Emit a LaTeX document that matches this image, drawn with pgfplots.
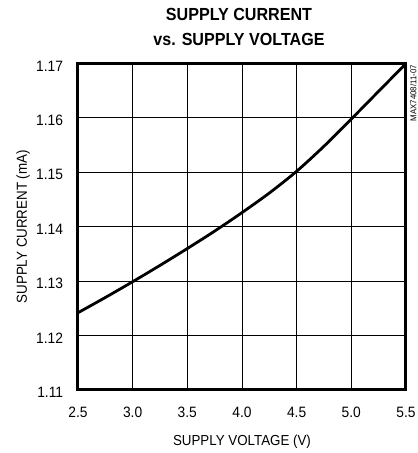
\documentclass[border=0pt]{standalone}
\usepackage{fontspec}
\setmainfont{Liberation Sans}[FakeStretch=0.92]
\usepackage{pgfplots}
\pgfplotsset{compat=1.18}
\begin{document}
\begin{tikzpicture}
\useasboundingbox (-78pt,-63pt) rectangle (340pt,390pt);
\begin{axis}[
  at={(0pt,0pt)}, anchor=south west,
  scale only axis, width=328pt, height=326.5pt,
  xmin=2.5, xmax=5.5, ymin=1.11, ymax=1.17,
  xtick={2.5,3.0,3.5,4.0,4.5,5.0,5.5},
  ytick={1.11,1.12,1.13,1.14,1.15,1.16,1.17},
  /pgf/number format/assume math mode=true,
  xticklabel style={/pgf/number format/fixed, /pgf/number format/fixed zerofill, /pgf/number format/precision=1, anchor=base, inner sep=0pt, yshift=-27.3pt},
  yticklabel style={/pgf/number format/fixed, /pgf/number format/fixed zerofill, /pgf/number format/precision=2, anchor=east, inner sep=0pt, xshift=-14.7pt, yshift=-2.5pt},
  tick label style={font=\fontsize{15}{18}\selectfont},
  major tick length=0pt,
  grid=major,
  major grid style={black, line width=0.9pt},
  axis line style={black, line width=3pt},
  xlabel={SUPPLY VOLTAGE (V)},
  ylabel={SUPPLY CURRENT (mA)},
  xlabel style={at={(axis description cs:0.5,-0.1706)}, anchor=base, inner sep=0pt, font=\fontsize{14.5}{17}\selectfont},
  ylabel style={at={(axis description cs:-0.1555,0.5)}, anchor=base, inner sep=0pt, font=\fontsize{14.5}{17}\selectfont},
  clip=false,
]
\addplot[black, line width=2.8pt, smooth, tension=0.5] coordinates {
  (2.5,1.1242) (2.75,1.1270) (3.0,1.1299) (3.25,1.1329) (3.5,1.1360)
  (3.75,1.1392) (4.0,1.1426) (4.25,1.1462) (4.5,1.1502) (4.75,1.1548)
  (5.0,1.1598) (5.25,1.1649) (5.5,1.1700)
};
\node[anchor=base, inner sep=0pt, font=\bfseries\fontsize{17.5}{20}\selectfont] at (axis description cs:0.4909,1.1311) {SUPPLY CURRENT};
\node[anchor=base, inner sep=0pt, font=\bfseries\fontsize{17.5}{20}\selectfont] at (axis description cs:0.4909,1.0545) {vs. SUPPLY VOLTAGE};
\node[rotate=90, anchor=base east, inner sep=0pt, font=\fontsize{8.5}{10}\selectfont] at (axis description cs:1.032,0.9954) {MAX7408/11-07};
\end{axis}
\end{tikzpicture}
\end{document}
